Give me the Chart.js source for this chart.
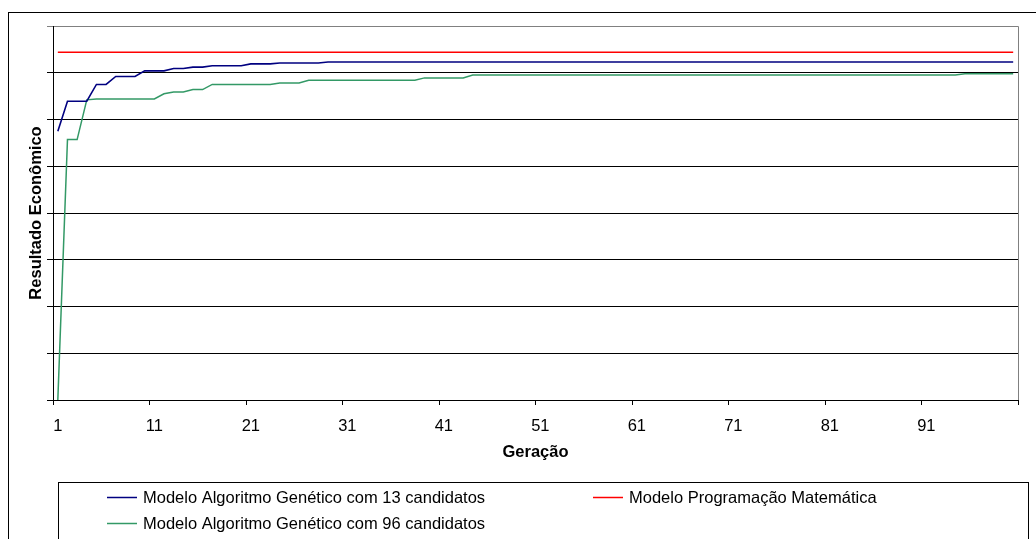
<!DOCTYPE html>
<html>
<head>
<meta charset="utf-8">
<script src="https://cdn.jsdelivr.net/npm/chart.js@4.4.1/dist/chart.umd.min.js"></script>
<style>
  body { margin: 0; background: #fff; }
  canvas { display: block; }
</style>
</head>
<body>
<canvas id="grafico" width="1036" height="539"></canvas>
<script>
// Geracoes 1..100 (eixo de categorias)
const geracoes = [];
for (let g = 1; g <= 100; g++) geracoes.push(String(g));

// Modelo Algoritmo Genetico com 13 candidatos
const ag13 = [
  5.75, 6.39, 6.39, 6.39, 6.75, 6.75, 6.92, 6.92, 6.92, 7.04,
  7.04, 7.04, 7.09, 7.09, 7.12, 7.12, 7.15, 7.15, 7.15, 7.15,
  7.19, 7.19, 7.19, 7.21, 7.21, 7.21, 7.21, 7.21, 7.23, 7.23,
  7.23, 7.23, 7.23, 7.23, 7.23, 7.23, 7.23, 7.23, 7.23, 7.23,
  7.23, 7.23, 7.23, 7.23, 7.23, 7.23, 7.23, 7.23, 7.23, 7.23,
  7.23, 7.23, 7.23, 7.23, 7.23, 7.23, 7.23, 7.23, 7.23, 7.23,
  7.23, 7.23, 7.23, 7.23, 7.23, 7.23, 7.23, 7.23, 7.23, 7.23,
  7.23, 7.23, 7.23, 7.23, 7.23, 7.23, 7.23, 7.23, 7.23, 7.23,
  7.23, 7.23, 7.23, 7.23, 7.23, 7.23, 7.23, 7.23, 7.23, 7.23,
  7.23, 7.23, 7.23, 7.23, 7.23, 7.23, 7.23, 7.23, 7.23, 7.23
];

// Modelo Programacao Matematica
const progMat = [
  7.44, 7.44, 7.44, 7.44, 7.44, 7.44, 7.44, 7.44, 7.44, 7.44,
  7.44, 7.44, 7.44, 7.44, 7.44, 7.44, 7.44, 7.44, 7.44, 7.44,
  7.44, 7.44, 7.44, 7.44, 7.44, 7.44, 7.44, 7.44, 7.44, 7.44,
  7.44, 7.44, 7.44, 7.44, 7.44, 7.44, 7.44, 7.44, 7.44, 7.44,
  7.44, 7.44, 7.44, 7.44, 7.44, 7.44, 7.44, 7.44, 7.44, 7.44,
  7.44, 7.44, 7.44, 7.44, 7.44, 7.44, 7.44, 7.44, 7.44, 7.44,
  7.44, 7.44, 7.44, 7.44, 7.44, 7.44, 7.44, 7.44, 7.44, 7.44,
  7.44, 7.44, 7.44, 7.44, 7.44, 7.44, 7.44, 7.44, 7.44, 7.44,
  7.44, 7.44, 7.44, 7.44, 7.44, 7.44, 7.44, 7.44, 7.44, 7.44,
  7.44, 7.44, 7.44, 7.44, 7.44, 7.44, 7.44, 7.44, 7.44, 7.44
];

// Modelo Algoritmo Genetico com 96 candidatos
const ag96 = [
  0.00, 5.57, 5.57, 6.42, 6.44, 6.44, 6.44, 6.44, 6.44, 6.44,
  6.44, 6.55, 6.59, 6.59, 6.64, 6.64, 6.75, 6.75, 6.75, 6.75,
  6.75, 6.75, 6.75, 6.78, 6.78, 6.78, 6.84, 6.84, 6.84, 6.84,
  6.84, 6.84, 6.84, 6.84, 6.84, 6.84, 6.84, 6.84, 6.89, 6.89,
  6.89, 6.89, 6.89, 6.95, 6.95, 6.95, 6.95, 6.95, 6.95, 6.95,
  6.95, 6.95, 6.95, 6.95, 6.95, 6.95, 6.95, 6.95, 6.95, 6.95,
  6.95, 6.95, 6.95, 6.95, 6.95, 6.95, 6.95, 6.95, 6.95, 6.95,
  6.95, 6.95, 6.95, 6.95, 6.95, 6.95, 6.95, 6.95, 6.95, 6.95,
  6.95, 6.95, 6.95, 6.95, 6.95, 6.95, 6.95, 6.95, 6.95, 6.95,
  6.95, 6.95, 6.95, 6.95, 6.98, 6.98, 6.98, 6.98, 6.98, 6.98
];

const fonte = "'Liberation Sans', Arial, sans-serif";
const tamanho = 16.5;

// moldura externa e borda da area de plotagem
const molduras = {
  id: "molduras",
  beforeDraw(chart) {
    const ctx = chart.ctx;
    const a = chart.chartArea;
    ctx.save();
    ctx.fillStyle = "#fff";
    ctx.fillRect(0, 0, chart.width, chart.height);
    ctx.strokeStyle = "#000";
    ctx.lineWidth = 1;
    ctx.strokeRect(8.5, 12.5, chart.width + 20, chart.height + 20);
    ctx.strokeStyle = "#808080";
    ctx.beginPath();
    ctx.moveTo(a.left, a.top + 0.5);
    ctx.lineTo(a.right + 0.5, a.top + 0.5);
    ctx.lineTo(a.right + 0.5, a.bottom);
    ctx.stroke();
    ctx.restore();
  }
};

// legenda em caixa, duas colunas, como no Excel
const legendaCaixa = {
  id: "legendaCaixa",
  afterDraw(chart) {
    const ctx = chart.ctx;
    const pos = [[107, 497], [593, 497], [107, 523]];
    ctx.save();
    ctx.strokeStyle = "#000";
    ctx.lineWidth = 1;
    ctx.strokeRect(58.5, 482.5, 970, 80);
    ctx.font = tamanho + "px " + fonte;
    ctx.textBaseline = "middle";
    ctx.textAlign = "left";
    chart.data.datasets.forEach(function(ds, i) {
      const x = pos[i][0], y = pos[i][1];
      ctx.strokeStyle = ds.borderColor;
      ctx.lineWidth = 1.5;
      ctx.beginPath();
      ctx.moveTo(x, y + 0.5);
      ctx.lineTo(x + 30, y + 0.5);
      ctx.stroke();
      ctx.fillStyle = "#000";
      ctx.fillText(ds.label, x + 36, y + 1);
    });
    ctx.restore();
  }
};

new Chart("grafico", {
  type: "line",
  data: {
    labels: geracoes,
    datasets: [{
      label: "Modelo Algoritmo Genético com 13 candidatos",
      data: ag13,
      borderColor: "#000080",
      borderWidth: 1.6,
      pointRadius: 0,
      fill: false
    }, {
      label: "Modelo Programação Matemática",
      data: progMat,
      borderColor: "#ff0000",
      borderWidth: 1.5,
      pointRadius: 0,
      fill: false
    }, {
      label: "Modelo Algoritmo Genético com 96 candidatos",
      data: ag96,
      borderColor: "#339966",
      borderWidth: 1.5,
      pointRadius: 0,
      fill: false
    }]
  },
  options: {
    responsive: false,
    animation: false,
    devicePixelRatio: 1,
    layout: { padding: { left: 0, top: 26, right: 18, bottom: 77 } },
    plugins: {
      legend: { display: false },
      tooltip: { enabled: false }
    },
    scales: {
      x: {
        type: "category",
        offset: true,
        grid: {
          offset: true,
          drawOnChartArea: false,
          tickLength: 5,
          color: c => (c.type !== "tick" || c.index % 10 === 0) ? "#000" : "rgba(0,0,0,0)"
        },
        border: { color: "#000", width: 1 },
        ticks: {
          autoSkip: false,
          maxRotation: 0,
          padding: 12,
          color: "#000",
          font: { family: fonte, size: tamanho },
          callback: function(value, index) {
            return index % 10 === 0 ? this.getLabelForValue(value) : "";
          }
        },
        title: {
          display: true,
          text: "Geração",
          color: "#000",
          font: { family: fonte, size: tamanho, weight: "bold" },
          padding: { top: 0, bottom: 0 }
        },
        afterFit: s => { s.height = 62; }
      },
      y: {
        min: 0,
        max: 8,
        grid: {
          color: c => (c.tick && c.tick.value === 8) ? "#808080" : "#000",
          tickLength: 6,
          lineWidth: 1
        },
        border: { color: "#000", width: 1 },
        ticks: { stepSize: 1, display: false },
        title: {
          display: true,
          text: "Resultado Econômico",
          color: "#000",
          font: { family: fonte, size: tamanho, weight: "bold" },
          padding: { top: 27, bottom: 0 }
        },
        afterFit: s => { s.width = 53; }
      }
    }
  },
  plugins: [molduras, legendaCaixa]
});
</script>
</body>
</html>
